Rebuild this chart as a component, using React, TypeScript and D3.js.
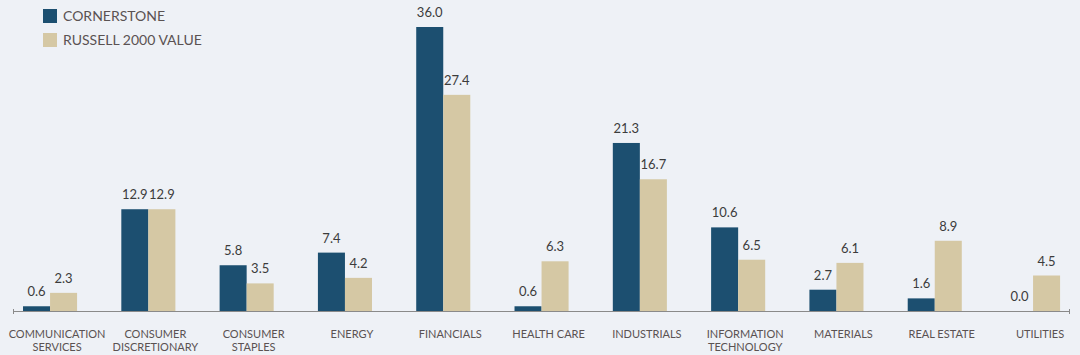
import React from "react";
import * as d3 from "d3";

const categories = [
  ["COMMUNICATION", "SERVICES"],
  ["CONSUMER", "DISCRETIONARY"],
  ["CONSUMER", "STAPLES"],
  ["ENERGY"],
  ["FINANCIALS"],
  ["HEALTH CARE"],
  ["INDUSTRIALS"],
  ["INFORMATION", "TECHNOLOGY"],
  ["MATERIALS"],
  ["REAL ESTATE"],
  ["UTILITIES"],
];
const cornerstone = [0.6, 12.9, 5.8, 7.4, 36.0, 0.6, 21.3, 10.6, 2.7, 1.6, 0.0];
const russell = [2.3, 12.9, 3.5, 4.2, 27.4, 6.3, 16.7, 6.5, 6.1, 8.9, 4.5];
const seriesNames = ["CORNERSTONE", "RUSSELL 2000 VALUE"];
const colors = ["#1c4f70", "#d5c8a4"];

const W = 1080;
const H = 355;
const FONT = "Lato, 'Open Sans', sans-serif";

export default function App() {
  const keys = categories.map((c) => c.join(" "));
  const x = d3
    .scaleBand<string>()
    .domain(keys)
    .range([0.9, 1082.2])
    .paddingInner(0.45)
    .paddingOuter(0.225);
  const sub = d3.scaleBand<number>().domain([0, 1]).range([0, x.bandwidth()]);
  const y = d3.scaleLinear().domain([0, 36]).range([311, 27]);
  const series = [cornerstone, russell];

  return (
    <svg
      width={W}
      height={H}
      style={{ position: "absolute", left: 0, top: 0, display: "block" }}
      fontFamily={FONT}
    >
      <rect x={0} y={0} width={W} height={H} fill="#eef1f6" />
      {/* legend */}
      {seriesNames.map((n, i) => (
        <g key={n} transform={`translate(43, ${9 + i * 24})`}>
          <rect width={14} height={14} fill={colors[i]} />
          <text x={20} y={12} fontSize={14} fill="#5a5252">
            {n}
          </text>
        </g>
      ))}
      {/* bars */}
      {keys.map((k, ci) => (
        <g key={k} transform={`translate(${x(k)},0)`}>
          {series.map((s, si) => {
            const v = s[ci];
            const bx = sub(si)!;
            return (
              <g key={si}>
                <rect
                  x={bx}
                  y={y(v)}
                  width={sub.bandwidth()}
                  height={y(0) - y(v)}
                  fill={colors[si]}
                />
                <text
                  x={bx + sub.bandwidth() / 2}
                  y={y(v) - 10}
                  textAnchor="middle"
                  fontSize={13}
                  fill="#3c3c3c"
                >
                  {v.toFixed(1)}
                </text>
              </g>
            );
          })}
          {categories[ci].map((line, li) => (
            <text
              key={li}
              x={x.bandwidth() / 2 + 7}
              y={338 + li * 13}
              textAnchor="middle"
              fontSize={11}
              fill="#5a5252"
            >
              {line}
            </text>
          ))}
        </g>
      ))}
      {/* axis */}
      <line x1={13} x2={1070} y1={311.5} y2={311.5} stroke="#8a8a8a" strokeWidth={1} />
      <line x1={13.5} x2={13.5} y1={309} y2={314} stroke="#8a8a8a" />
      <line x1={1069.5} x2={1069.5} y1={309} y2={314} stroke="#8a8a8a" />
    </svg>
  );
}
